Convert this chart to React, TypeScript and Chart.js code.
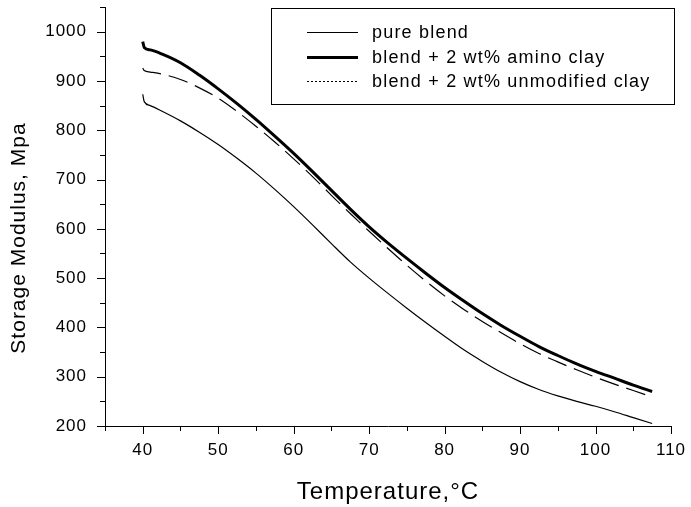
import React, { useEffect, useRef } from 'react';
import { Chart, registerables } from 'chart.js';

Chart.register(...registerables);

// Temperature (°C)
const temperatures = [40, 40.2, 41, 42.5, 45, 47.5, 50, 52.5, 55, 57.5, 60, 62.5, 65, 67.5, 70, 72.5, 75, 77.5, 80, 82.5, 85, 87.5, 90, 92.5, 95, 97.5, 100, 102.5, 105, 107.5];

// Storage modulus (MPa)
const pureBlend = [873, 858, 850, 839, 819, 796, 771, 743, 713, 680, 645, 608, 570, 533, 500, 469, 439, 410, 382, 355, 331, 309, 290, 274, 261, 250, 240, 229, 217, 205];
const aminoClay = [980, 968, 963, 955, 937, 912, 884, 854, 822, 788, 753, 716, 678, 640, 604, 571, 540, 510, 481, 454, 428, 404, 382, 361, 343, 326, 311, 297, 283, 270];
const unmodifiedClay = [926, 921, 918, 914, 903, 886, 865, 838, 808, 776, 742, 706, 668, 631, 595, 560, 526, 494, 464, 437, 412, 389, 367, 347, 330, 314, 299, 285, 272, 259];

const seriesLabels = ['pure blend', 'blend + 2 wt% amino clay', 'blend + 2 wt% unmodified clay'];

const xTitle = 'Temperature,°C';
const yTitle = 'Storage Modulus, Mpa';

const FONT = '"Liberation Sans", Arial, sans-serif';

const toPoints = (vals: number[]) => vals.map((v, i) => ({ x: temperatures[i], y: v }));

const minorTicksPlugin = {
  id: 'minorTicks',
  afterDraw(chart: any) {
    const ctx = chart.ctx;
    const xs = chart.scales.x;
    const ys = chart.scales.y;
    const area = chart.chartArea;
    ctx.save();
    ctx.strokeStyle = '#000';
    ctx.lineWidth = 1;
    ctx.beginPath();
    for (let v = 200; v <= 1050; v += 50) {
      const py = Math.round(ys.getPixelForValue(v)) + 0.5;
      const len = v % 100 === 0 ? 8 : 5;
      ctx.moveTo(area.left - len, py);
      ctx.lineTo(area.left, py);
    }
    for (let v = 35; v <= 110; v += 5) {
      const px = Math.round(xs.getPixelForValue(v)) + 0.5;
      const len = v % 10 === 0 ? 8 : 5;
      ctx.moveTo(px, area.bottom);
      ctx.lineTo(px, area.bottom + len);
    }
    ctx.stroke();

    // y-axis title
    ctx.fillStyle = '#000';
    ctx.font = `21px ${FONT}`;
    ctx.letterSpacing = '1px';
    ctx.textAlign = 'center';
    ctx.textBaseline = 'middle';
    ctx.translate(19, 238);
    ctx.rotate(-Math.PI / 2);
    ctx.fillText(yTitle, 0, 0);
    ctx.restore();
  },
};

const boxLegendPlugin = {
  id: 'boxLegend',
  afterDraw(chart: any) {
    const ctx = chart.ctx;
    ctx.save();
    ctx.strokeStyle = '#000';
    ctx.lineWidth = 1;
    ctx.strokeRect(271.5, 8.5, 403, 96);
    const rows = [32, 57, 81];
    const widths = [1, 3, 1];
    const dashes = [[], [], [2, 2]];
    chart.data.datasets.forEach((ds: any, i: number) => {
      ctx.beginPath();
      ctx.setLineDash(dashes[i]);
      ctx.lineWidth = widths[i];
      ctx.moveTo(307, rows[i] + 0.5);
      ctx.lineTo(358, rows[i] + 0.5);
      ctx.stroke();
      ctx.setLineDash([]);
      ctx.fillStyle = '#000';
      ctx.font = `18px ${FONT}`;
      ctx.letterSpacing = '1.2px';
      ctx.textBaseline = 'middle';
      ctx.textAlign = 'left';
      ctx.fillText(ds.label, 372, rows[i] + 1);
    });
    ctx.restore();
  },
};

const spacingPlugin = {
  id: 'spacing',
  beforeUpdate(chart: any) {
    chart.ctx.letterSpacing = '1px';
  },
  beforeDraw(chart: any) {
    chart.ctx.letterSpacing = '1px';
  },
};

export default function App() {
  const ref = useRef<HTMLCanvasElement>(null);

  useEffect(() => {
    if (!ref.current) return;
    const chart = new Chart(ref.current, {
      type: 'line',
      data: {
        datasets: [
          {
            label: seriesLabels[0],
            data: toPoints(pureBlend),
            borderColor: '#000',
            borderWidth: 1.2,
            pointRadius: 0,
            cubicInterpolationMode: 'monotone',
          },
          {
            label: seriesLabels[1],
            data: toPoints(aminoClay),
            borderColor: '#000',
            borderWidth: 3,
            pointRadius: 0,
            cubicInterpolationMode: 'monotone',
          },
          {
            label: seriesLabels[2],
            data: toPoints(unmodifiedClay),
            borderColor: '#000',
            borderWidth: 1.2,
            borderDash: [20, 8],
            pointRadius: 0,
            cubicInterpolationMode: 'monotone',
          },
        ],
      },
      options: {
        responsive: false,
        animation: false,
        layout: { padding: { top: 7, right: 20, left: 0, bottom: 0 } },
        plugins: {
          legend: { display: false },
          tooltip: { enabled: false },
        },
        scales: {
          x: {
            type: 'linear',
            min: 35,
            max: 110,
            afterFit: (s: any) => {
              s.height = 81;
              s.paddingLeft = 0;
              s.paddingRight = 0;
            },
            grid: { display: true, drawOnChartArea: false, drawTicks: false },
            border: { display: true, color: '#000', width: 1 },
            ticks: {
              stepSize: 5,
              autoSkip: false,
              maxRotation: 0,
              padding: 14,
              color: '#000',
              font: { family: FONT, size: 17 },
              callback: (v: any) => (Number(v) % 10 === 0 ? String(v) : ''),
            },
            title: {
              display: true,
              text: xTitle,
              color: '#000',
              font: { family: FONT, size: 24 },
              padding: 0,
            },
          },
          y: {
            type: 'linear',
            min: 200,
            max: 1050,
            afterFit: (s: any) => {
              s.width = 105;
              s.paddingTop = 0;
              s.paddingBottom = 0;
            },
            grid: { display: true, drawOnChartArea: false, drawTicks: false },
            border: { display: true, color: '#000', width: 1 },
            ticks: {
              stepSize: 50,
              autoSkip: false,
              padding: 18,
              color: '#000',
              font: { family: FONT, size: 17 },
              callback: (v: any) => (Number(v) % 100 === 0 ? String(v) : ''),
            },
            title: { display: false },
          },
        },
      },
      plugins: [spacingPlugin, minorTicksPlugin, boxLegendPlugin],
    } as any);
    return () => chart.destroy();
  }, []);

  return (
    <div style={{ position: 'absolute', left: 0, top: 0, width: 691, height: 507, background: '#fff' }}>
      <canvas ref={ref} width={691} height={507} style={{ display: 'block' }} />
    </div>
  );
}
